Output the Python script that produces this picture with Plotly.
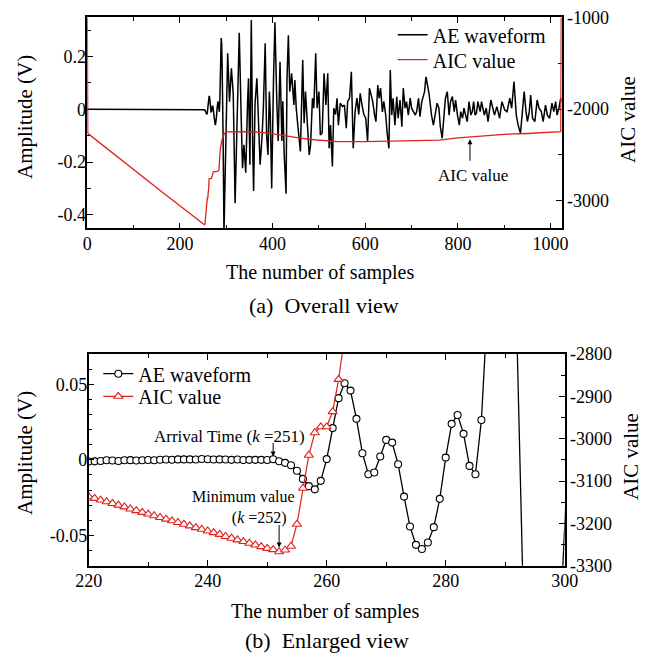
import plotly.graph_objects as go

# ---------------- data ----------------
# AE waveform: vertices of the trace (sample index, amplitude in V)
sample_index = [0, 100,
    220, 221, 222, 223, 224, 225, 226, 227, 228, 229, 230, 231, 232, 233, 234, 235, 236, 237, 238, 239,
    240, 241, 242, 243, 244, 245, 246, 247, 248, 249, 250, 251, 252, 253, 254, 255, 256, 257, 258, 259,
    260, 261, 262, 263, 264, 265, 266, 267, 268, 269, 270, 271, 272, 273, 274, 275, 276, 277, 278, 279,
    280, 281, 282, 283, 284, 285, 286, 287, 288, 289, 290, 291, 292, 293, 294, 295,
    303, 307, 311, 315, 319, 324, 328, 332, 335, 338, 342, 346, 348, 351, 354, 357, 359, 362, 366, 369,
    373, 377, 380, 384, 387, 390, 393, 395, 398, 402, 405, 409, 412, 416, 420, 422, 425, 429, 431, 434,
    437, 441, 446, 448, 451, 455, 460, 465, 468, 471, 474, 479, 482, 486, 489, 493, 496, 500, 503, 507,
    511, 515, 519, 522, 525, 529, 532, 536, 539, 542, 546, 551, 555, 559, 562, 566, 570, 574, 578, 582,
    586, 589, 593, 597, 601, 605, 609, 612, 616, 620, 623, 627, 630, 633, 637, 640, 644, 647, 651, 654,
    657, 660, 664, 668, 671, 675, 679, 682, 686, 689, 693, 697, 700, 704, 708, 711, 715, 718, 722, 728,
    731, 735, 738, 743, 747, 752, 755, 759, 762, 766, 770, 773, 777, 781, 784, 788, 792, 795, 799, 803,
    806, 810, 813, 817, 820, 824, 828, 831, 834, 837, 840, 843, 848, 851, 857, 861, 865, 871, 875, 879,
    884, 890, 895, 901, 906, 912, 916, 921, 926, 930, 935, 939, 943, 947, 950, 954, 957, 961, 966, 971,
    975, 980, 984, 989, 993, 998, 1003, 1007, 1011, 1014, 1018, 1022, 1023]
amplitude_v = [0.0, 0.0,
    -0.0011, -0.0010, -0.0008, -0.0003, -0.0004, -0.0008, -0.0003, -0.0002, -0.0004, -0.0003,
    -0.0001, -0.0003, 0.0001, 0.0002, 0.0001, 0.0003, 0.0003, 0.0003, 0.0002, 0.0006,
    0.0004, 0.0002, 0.0003, 0.0002, 0.0000, 0.0002, -0.0001, 0.0000, 0.0000, 0.0000,
    -0.0001, 0.0004, -0.0009, -0.0020, -0.0036, -0.0072, -0.0126, -0.0174, -0.0195, -0.0139,
    0.0005, 0.0210, 0.0408, 0.0507, 0.0458, 0.0271, 0.0044, -0.0095, -0.0084, 0.0022,
    0.0132, 0.0114, -0.0029, -0.0243, -0.0441, -0.0562, -0.0590, -0.0547, -0.0445, -0.0258,
    0.0015, 0.0238, 0.0297, 0.0172, -0.0040, -0.0095, 0.0264, 0.099, 0.21, 0.27, 0.25, 0.17,
    0.077, -0.086, -0.27, -0.47,
    0.212, 0.029, 0.155, 0.06, -0.356, 0.029, 0.29, -0.02, -0.223, -0.135, -0.24, 0.03, 0.117, -0.21,
    0.338, -0.148, -0.31, 0.02, 0.117, -0.02,
    -0.21, -0.11, 0.005, 0.25, -0.097, -0.173, 0.067, -0.02, -0.30, 0.12, 0.33, 0.03, -0.12, 0.18,
    -0.12, 0.03, -0.17, -0.32, 0.11, 0.28,
    0.067, 0.136, 0.016, 0.111, 0.004, -0.072, -0.16, 0.187, -0.053, 0.067, -0.034, -0.173, -0.135,
    0.042, 0.004, 0.212, 0.004, 0.067, -0.097, -0.09,
    0.136, 0.016, 0.136, -0.148, -0.06, -0.217, 0.004, -0.02, 0.042, -0.06, 0.023, 0.01, 0.016,
    -0.072, 0.03, 0.042, 0.142, -0.148, -0.01, 0.042,
    -0.02, 0.06, 0.016, -0.02, -0.034, -0.123, 0.08, 0.054, 0.03, -0.02, -0.047, 0.092, 0.042, 0.08,
    -0.01, 0.03, -0.02, -0.085, -0.148, 0.149,
    -0.022, 0.042, -0.06, 0.047, -0.034, 0.035, -0.066, 0.08, 0.004, 0.029, -0.022, 0.042, 0.004,
    -0.009, -0.022, -0.009, 0.042, -0.028, 0.029, 0.067,
    0.123, 0.086, 0.054, -0.022, -0.06, -0.009, 0.023, 0.004, -0.066, -0.11, -0.022, 0.042, 0.067,
    -0.022, 0.029, 0.048, -0.009, 0.035, -0.022, -0.06,
    -0.009, -0.034, 0.004, -0.022, -0.047, 0.029, -0.022, -0.009, 0.029, -0.022, -0.015, 0.029,
    -0.009, 0.029, -0.022, 0.004, -0.047, 0.035, 0.004, -0.022,
    0.01, -0.034, 0.029, -0.003, -0.009, 0.042, 0.004, 0.105, -0.022, -0.06, -0.091, -0.009, 0.067,
    -0.009, -0.047, -0.009, 0.054, -0.034, -0.047, 0.035,
    0.004, -0.009, -0.047, 0.016, -0.022, -0.034, 0.023, -0.009, 0.029, -0.022, 0.004, 0.042, 0.029]

# AIC curve: vertices (sample index, AIC value)
aic_index = [0, 1, 160,
    220, 221, 222, 223, 224, 225, 226, 227, 228, 229, 230, 231, 232, 233, 234, 235, 236, 237, 238, 239,
    240, 241, 242, 243, 244, 245, 246, 247, 248, 249, 250, 251, 252, 253, 254, 255, 256, 257, 258, 259,
    260, 261, 262, 263, 268, 272, 281, 284, 287, 291, 296, 300, 330, 355, 390, 430, 460, 490, 520, 540,
    600, 700, 760, 800, 850, 900, 950, 1000, 1022, 1023]
aic_value = [-1000, -2265, -2900,
    -3137, -3141, -3145, -3149, -3153, -3157, -3161, -3166, -3170, -3174, -3178, -3182, -3186, -3190,
    -3194, -3198, -3202, -3206, -3210, -3214, -3218, -3222, -3226, -3231, -3235, -3239, -3243, -3247,
    -3251, -3255, -3259, -3262, -3267, -3263, -3254, -3202, -3117, -3039, -2986, -2972,
    -2972, -2936, -2860, -2760, -2756, -2684, -2680, -2670, -2440, -2330, -2265, -2250, -2243, -2245,
    -2262, -2295, -2318, -2335, -2350, -2356,
    -2356, -2349, -2340, -2315, -2295, -2276, -2267, -2258, -2247, -1000]

# tick labels
top_x_ticks = [0, 200, 400, 600, 800, 1000]
top_x_labels = ["0", "200", "400", "600", "800", "1000"]
top_amp_ticks = [-0.4, -0.2, 0, 0.2]
top_amp_labels = ["-0.4", "-0.2", "0", "0.2"]
top_aic_ticks = [-3000, -2000, -1000]
top_aic_labels = ["-3000", "-2000", "-1000"]
bot_x_ticks = [220, 240, 260, 280, 300]
bot_x_labels = ["220", "240", "260", "280", "300"]
bot_amp_ticks = [-0.05, 0, 0.05]
bot_amp_labels = ["-0.05", "0", "0.05"]
bot_aic_ticks = [-3300, -3200, -3100, -3000, -2900, -2800]
bot_aic_labels = ["-3300", "-3200", "-3100", "-3000", "-2900", "-2800"]

# ---------------- figure ----------------
# the page body has an 8 px margin, so the figure is drawn 8 px smaller and
# reference pixel positions are shifted by that offset
OFF = 8
W, H = 648 - OFF, 662 - OFF
FONT = "Liberation Serif"


def fx(p):
    return (p - OFF) / W


def fy(p):
    return 1 - (p - OFF) / H


def axis_style(tickvals, ticktext, rng, minor_dtick, minor_tick0, standoff=0, **kw):
    d = dict(
        range=rng, tickmode="array", tickvals=tickvals, ticktext=ticktext,
        ticks="inside", ticklen=6, tickwidth=1.3, tickcolor="black",
        minor=dict(dtick=minor_dtick, tick0=minor_tick0, ticks="inside", ticklen=4,
                   tickwidth=1.2, tickcolor="black"),
        showline=True, linewidth=1.5, linecolor="black",
        showgrid=False, zeroline=False, automargin=False,
        ticklabelstandoff=standoff, ticklabeloverflow="allow",
        tickfont=dict(family=FONT, size=18, color="black"),
    )
    d.update(kw)
    return d


fig = go.Figure()

fig.add_trace(go.Scatter(
    x=sample_index, y=amplitude_v, xaxis="x", yaxis="y", mode="lines",
    line=dict(color="black", width=1.5), name="AE waveform", legend="legend"))
fig.add_trace(go.Scatter(
    x=aic_index, y=aic_value, xaxis="x", yaxis="y2", mode="lines",
    line=dict(color="#e0201b", width=1.3), name="AIC value", legend="legend3"))

fig.add_trace(go.Scatter(
    x=sample_index, y=amplitude_v, xaxis="x2", yaxis="y3", mode="lines+markers",
    line=dict(color="black", width=1.3),
    marker=dict(symbol="circle", size=7, color="white", line=dict(color="black", width=1.1)),
    name="AE waveform", legend="legend2"))
fig.add_trace(go.Scatter(
    x=aic_index, y=aic_value, xaxis="x2", yaxis="y4", mode="lines+markers",
    line=dict(color="#e0201b", width=1.2),
    marker=dict(symbol="triangle-up", size=8, color="white", line=dict(color="#e0201b", width=1.1)),
    name="AIC value", legend="legend4"))

top_dom_x = [fx(87.3), fx(561.7)]
top_dom_y = [fy(228.3), fy(17.3)]
bot_dom_x = [fx(88.7), fx(564.7)]
bot_dom_y = [fy(565.7), fy(354.0)]


def legend_at(x, y):
    return dict(x=fx(x), y=fy(y), xanchor="left", yanchor="middle",
                bgcolor="rgba(0,0,0,0)", font=dict(family=FONT, size=20, color="black"),
                itemwidth=30, tracegroupgap=0)


fig.update_layout(
    template="none",
    width=W, height=H,
    margin=dict(l=0, r=0, t=0, b=0, pad=0, autoexpand=False),
    paper_bgcolor="white", plot_bgcolor="white",
    font=dict(family=FONT, color="black"),
    xaxis=axis_style(top_x_ticks, top_x_labels, [0, 1024], 100, 0, -2,
                     domain=top_dom_x, anchor="y", mirror="ticks"),
    yaxis=axis_style(top_amp_ticks, top_amp_labels, [-0.451, 0.3485], 0.1, 0, -4,
                     domain=top_dom_y, anchor="x", layer="below traces"),
    yaxis2=axis_style(top_aic_ticks, top_aic_labels, [-3301, -999], 500, 0, 0,
                      overlaying="y", side="right", anchor="x", layer="below traces"),
    xaxis2=axis_style(bot_x_ticks, bot_x_labels, [220, 300], 10, 0, -2,
                      domain=bot_dom_x, anchor="y3", mirror="ticks"),
    yaxis3=axis_style(bot_amp_ticks, bot_amp_labels, [-0.07, 0.07], 0.01, 0, -4,
                      domain=bot_dom_y, anchor="x2"),
    yaxis4=axis_style(bot_aic_ticks, bot_aic_labels, [-3300, -2800], 50, 0, 0,
                      overlaying="y3", side="right", anchor="x2"),
    legend=legend_at(392.7, 34.7),
    legend3=legend_at(392.7, 59.7),
    legend2=legend_at(98.3, 373.7),
    legend4=legend_at(98.3, 396.3),
    showlegend=True,
)

ann = []


def text(x, y, s, size=20, angle=0, xanchor="center", align="center"):
    ann.append(dict(x=fx(x), y=fy(y), xref="paper", yref="paper", text=s, showarrow=False,
                    textangle=angle, xanchor=xanchor, yanchor="middle", align=align,
                    font=dict(family=FONT, size=size, color="black")))


# axis titles and captions
text(25, 117, "Amplitude (V)", 21, -90)
text(628, 120, "AIC value", 21, -90)
text(320, 272, "The number of samples", 20)
text(324, 305, "(a)  Overall view", 22)
text(25, 453, "Amplitude (V)", 21, -90)
text(631, 457, "AIC value", 21, -90)
text(325, 611, "The number of samples", 20)
text(327, 640, "(b)  Enlarged view", 22)

# top panel "AIC value" pointer
ann.append(dict(x=826, y=-2330, xref="x", yref="y2", ax=0, ay=23, text="",
                showarrow=True, arrowhead=2, arrowsize=1, arrowwidth=1, arrowcolor="black"))
text(473, 175, "AIC value", 17)

# bottom panel pointers
ann.append(dict(x=251, y=0.0022, xref="x2", yref="y3", ax=0, ay=-15, text="",
                showarrow=True, arrowhead=2, arrowsize=1, arrowwidth=1, arrowcolor="black"))
text(307, 436, "Arrival Time (<i>k</i> =251)", 17, 0, "right")
ann.append(dict(x=252, y=-0.058, xref="x2", yref="y3", ax=0, ay=-24, text="",
                showarrow=True, arrowhead=2, arrowsize=1, arrowwidth=1, arrowcolor="black"))
text(297, 507, "Minimum value<br>(<i>k</i> =252)&nbsp;&nbsp;", 16, 0, "right", "right")

fig.update_layout(annotations=ann)

fig.write_html("out.html")
